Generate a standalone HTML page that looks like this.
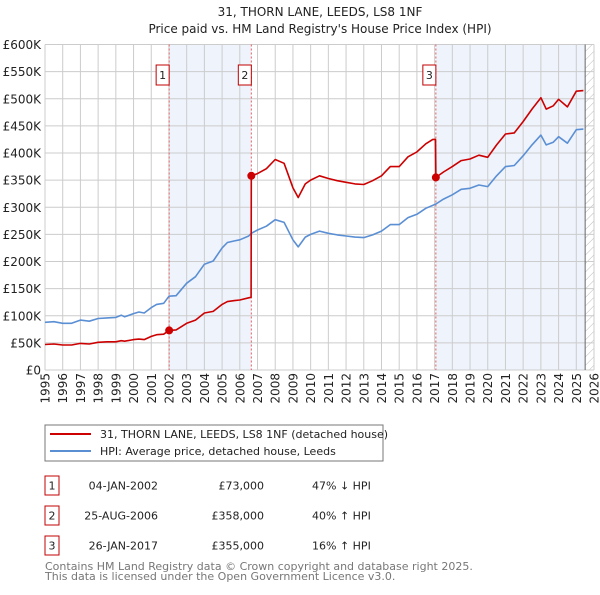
<!DOCTYPE html>
<html><head><meta charset="utf-8"><style>
body{margin:0;background:#fff;font-family:"Liberation Sans","DejaVu Sans",sans-serif;}
svg text{font-family:"DejaVu Sans","Liberation Sans",sans-serif;}
</style></head><body>
<svg id="c" width="600" height="590" xmlns="http://www.w3.org/2000/svg">
<defs><pattern id="hatch" width="6" height="6" patternUnits="userSpaceOnUse" patternTransform="rotate(45)"><line x1="0" y1="0" x2="0" y2="6" stroke="#bbb" stroke-width="1"/></pattern></defs>
<text x="320" y="16" text-anchor="middle" font-size="12" fill="#222">31, THORN LANE, LEEDS, LS8 1NF</text>
<text x="320" y="33" text-anchor="middle" font-size="12" fill="#222">Price paid vs. HM Land Registry's House Price Index (HPI)</text>
<g id="plot"></g>
<rect x="45" y="425" width="338" height="36" fill="#fff" stroke="#777"/>
<line x1="50" y1="434" x2="91" y2="434" stroke="#cc0000" stroke-width="2"/>
<text x="100" y="438" font-size="11" fill="#222">31, THORN LANE, LEEDS, LS8 1NF (detached house)</text>
<line x1="50" y1="451" x2="91" y2="451" stroke="#5b8fd4" stroke-width="2"/>
<text x="100" y="455" font-size="11" fill="#222">HPI: Average price, detached house, Leeds</text>
<g id="table" font-size="11" fill="#222"></g>
<text x="45" y="570" font-size="11" fill="#777">Contains HM Land Registry data © Crown copyright and database right 2025.</text>
<text x="45" y="580" font-size="11" fill="#777">This data is licensed under the Open Government Licence v3.0.</text>
</svg>
<script>
const hpiDates=[1995,1995.5,1996,1996.5,1997,1997.5,1998,1998.5,1999,1999.3,1999.5,2000,2000.3,2000.6,2001,2001.3,2001.7,2002,2002.4,2003,2003.5,2004,2004.5,2005,2005.3,2005.7,2006,2006.5,2006.65,2007,2007.5,2008,2008.5,2009,2009.3,2009.7,2010,2010.5,2011,2011.5,2012,2012.5,2013,2013.5,2014,2014.5,2015,2015.5,2016,2016.5,2017.07,2017.5,2018,2018.5,2019,2019.5,2020,2020.5,2021,2021.5,2022,2022.5,2023,2023.3,2023.7,2024,2024.5,2025,2025.4];
const hpiValues=[88,89,86,86,92,90,95,96,97,101,98,104,107,105,115,121,123,136,137,160,172,195,201,225,235,238,240,247,252,258,265,277,272,240,227,245,250,256,252,249,247,245,244,249,256,268,268,281,287,298,306,315,323,333,335,341,338,358,375,377,395,415,433,415,420,430,418,443,444];
const propDates=[1995,1995.5,1996,1996.5,1997,1997.5,1998,1998.5,1999,1999.3,1999.5,2000,2000.3,2000.6,2001,2001.3,2001.7,2002,2002.4,2003,2003.5,2004,2004.5,2005,2005.3,2005.7,2006,2006.5,2006.64,2006.65,2007,2007.5,2008,2008.5,2009,2009.3,2009.7,2010,2010.5,2011,2011.5,2012,2012.5,2013,2013.5,2014,2014.5,2015,2015.5,2016,2016.5,2016.9,2017.05,2017.07,2017.5,2018,2018.5,2019,2019.5,2020,2020.5,2021,2021.5,2022,2022.5,2023,2023.3,2023.7,2024,2024.5,2025,2025.4];
const propValues=[47,48,46,46,49,48,51,52,52,54,53,56,57,56,62,65,66,73,74,86,92,105,108,121,126,128,129,133,134,358,362,371,388,381,336,318,343,350,358,353,349,346,343,342,349,358,375,375,393,402,417,425,425,355,365,375,386,389,396,392,415,435,437,458,481,502,481,487,499,485,514,515];
const saleDates=[2002.01,2006.65,2017.07];
const saleValues=[73,358,355];
const saleLabels=["1","2","3"];
const saleDateText=["04-JAN-2002","25-AUG-2006","26-JAN-2017"];
const salePriceText=["£73,000","£358,000","£355,000"];
const saleHpiText=["47% ↓ HPI","40% ↑ HPI","16% ↑ HPI"];
const yTicks=[0,50,100,150,200,250,300,350,400,450,500,550,600];
const yTickLabels=["£0","£50K","£100K","£150K","£200K","£250K","£300K","£350K","£400K","£450K","£500K","£550K","£600K"];
const xYears=[1995,1996,1997,1998,1999,2000,2001,2002,2003,2004,2005,2006,2007,2008,2009,2010,2011,2012,2013,2014,2015,2016,2017,2018,2019,2020,2021,2022,2023,2024,2025,2026];
const shadeRanges=[[2002.01,2006.65],[2017.07,2025.5]];
const dataEnd=2025.5;

const X0=45,X1=594,Y0=370,Y1=44.5;
const sx=y=>X0+(y-1995)/(2026-1995)*(X1-X0);
const sy=v=>Y0-(v/600)*(Y0-Y1);
const NS="http://www.w3.org/2000/svg";
const g=document.getElementById('plot');
function mk(tag,attrs,parent){const e=document.createElementNS(NS,tag);for(const k in attrs)e.setAttribute(k,attrs[k]);(parent||g).appendChild(e);return e;}
shadeRanges.forEach((r,i)=>{const e=mk('rect',{x:sx(r[0]),y:Y1,width:sx(r[1])-sx(r[0]),height:Y0-Y1,fill:'#eef3fc'});

});
const h=mk('rect',{x:sx(dataEnd),y:Y1,width:X1-sx(dataEnd),height:Y0-Y1,fill:'url(#hatch)'});


yTicks.forEach((t,i)=>{const l=mk('line',{x1:X0,x2:X1,y1:sy(t),y2:sy(t),stroke:'#ccc','stroke-width':1});


const tx=mk('text',{x:41,y:sy(t)+4.5,'text-anchor':'end','font-size':12,fill:'#222'});tx.textContent=yTickLabels[i];

});
xYears.forEach(yr=>{const l=mk('line',{x1:sx(yr),x2:sx(yr),y1:Y1,y2:Y0,stroke:'#ccc','stroke-width':1});


const tx=mk('text',{x:0,y:0,'text-anchor':'end','font-size':12,fill:'#222',transform:`translate(${sx(yr)+4.5},373) rotate(-90)`});tx.textContent=yr;

});
const end=mk('line',{x1:sx(dataEnd),x2:sx(dataEnd),y1:Y1,y2:Y0,stroke:'#666','stroke-width':1});


saleDates.forEach((d,i)=>{const l=mk('line',{x1:sx(d),x2:sx(d),y1:Y1,y2:Y0,stroke:'#e06060','stroke-width':1,'stroke-dasharray':'2,2'});

});
function path(ds,vs,col,name){let d='';ds.forEach((x,i)=>{d+=(i?'L':'M')+sx(x).toFixed(1)+','+sy(vs[i]).toFixed(1);});
const p=mk('path',{d:d,fill:'none',stroke:col,'stroke-width':1.6,'stroke-linejoin':'round'});

}
path(hpiDates,hpiValues,'#5b8fd4','hpi-line');
path(propDates,propValues,'#cc0000','property-price-line');
saleDates.forEach((d,i)=>{const c=mk('circle',{cx:sx(d),cy:sy(saleValues[i]),r:4,fill:'#cc0000'});


const b=mk('rect',{x:sx(d)-13,y:65,width:13,height:20,fill:'#fff',stroke:'#c00000'});


const t=mk('text',{x:sx(d)-6.5,y:79,'text-anchor':'middle','font-size':11,fill:'#222'});t.textContent=saleLabels[i];

});
[...g.querySelectorAll('circle')].forEach(c=>g.appendChild(c));
const tb=document.getElementById('table');
saleLabels.forEach((s,i)=>{const y=476+i*30;
const b=mk('rect',{x:45,y:y,width:14,height:19,fill:'#fff',stroke:'#c00000'},tb);


const cells=[[52,'middle',s],[158,'end',saleDateText[i]],[264,'end',salePriceText[i]],[312,'start',saleHpiText[i]]];
cells.forEach(c=>{const t=mk('text',{x:c[0],y:y+13.5,'text-anchor':c[1]},tb);t.textContent=c[2];

});});
</script>
</body></html>
